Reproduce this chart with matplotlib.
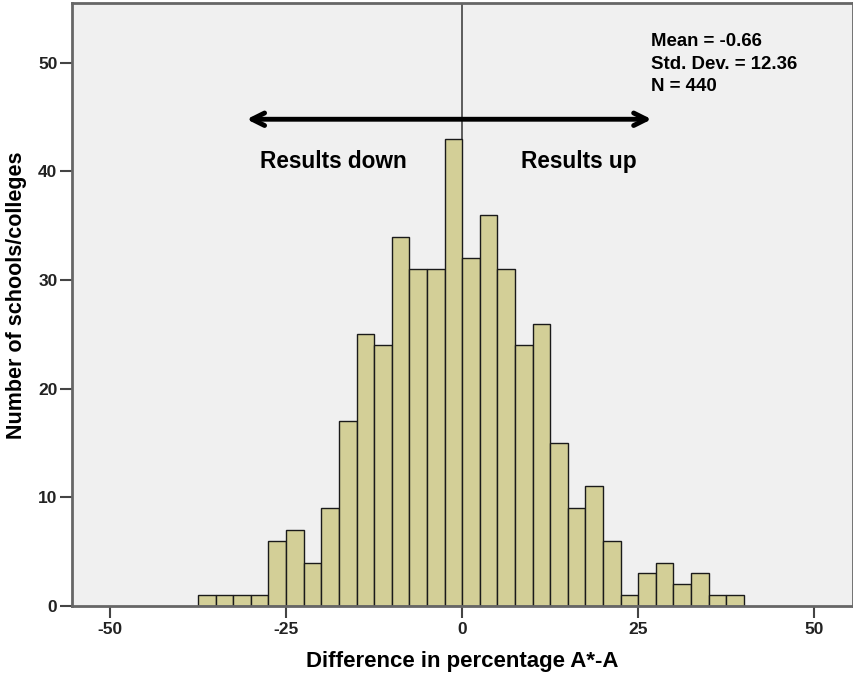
import numpy as np
import matplotlib
matplotlib.use("Agg")
import matplotlib.pyplot as plt

plt.rcParams["font.family"] = ["Liberation Sans", "DejaVu Sans"]
plt.rcParams["font.weight"] = "bold"
plt.rcParams["axes.unicode_minus"] = False

# histogram of A*-A change, 2.5 point bins
bin_width = 2.5
bin_left = np.arange(-37.5, 40.0, bin_width)
counts = [1, 1, 1, 1, 6, 7, 4, 9, 17, 25, 24, 34, 31, 31, 43,
          32, 36, 31, 24, 26, 15, 9, 11, 6, 1, 3, 4, 2, 3, 1, 1]

stats_text = "Mean = -0.66\nStd. Dev. = 12.36\nN = 440"
x_ticks = [-50, -25, 0, 25, 50]
y_ticks = [0, 10, 20, 30, 40, 50]

fig = plt.figure(figsize=(8.54, 6.74), dpi=100)
ax = fig.add_axes([72 / 854, 68 / 674, 781 / 854, 603 / 674])
ax.set_facecolor("#f0f0f0")

ax.axvline(0, color="#444444", lw=1.2, zorder=1)
ax.bar(bin_left, counts, width=bin_width, align="edge",
       color="#d3cf97", edgecolor="#1a1a1a", linewidth=1.0, zorder=2)

ax.set_xlim(-55.4, 55.5)
ax.set_ylim(0, 55.5)
ax.set_xticks(x_ticks)
ax.set_yticks(y_ticks)
ax.tick_params(direction="out", length=8.5, width=1.5, color="#444444",
               labelsize=12.5, pad=2)
ax.tick_params(axis="x", pad=3)
for lbl in ax.get_xticklabels() + ax.get_yticklabels():
    lbl.set_fontweight("bold")
    lbl.set_color("#222222")
for sp in ax.spines.values():
    sp.set_color("#666666")
    sp.set_linewidth(2)

ax.set_xlabel("Difference in percentage A*-A", fontsize=16, fontweight="bold",
              labelpad=10)
ax.set_ylabel("Number of schools/colleges", fontsize=15.5, fontweight="bold")
ax.yaxis.set_label_coords(-0.058, 0.515)

# direction arrow with labels either side of zero
ax.annotate("", xy=(-30.6, 44.8), xytext=(26.9, 44.8),
            arrowprops=dict(arrowstyle="<->,head_length=0.9,head_width=0.45",
                            lw=3.5, color="black", shrinkA=0, shrinkB=0,
                            capstyle="round", joinstyle="round"))
ax.text(-18.3, 40.9, "Results down", ha="center", va="center",
        fontsize=16.3, fontweight="bold")
ax.text(16.5, 40.9, "Results up", ha="center", va="center",
        fontsize=16.3, fontweight="bold")

ax.text(26.8, 52.7, stats_text, ha="left", va="top", fontsize=13.4,
        fontweight="bold", linespacing=1.42)

fig.savefig("out.png", dpi=100)
